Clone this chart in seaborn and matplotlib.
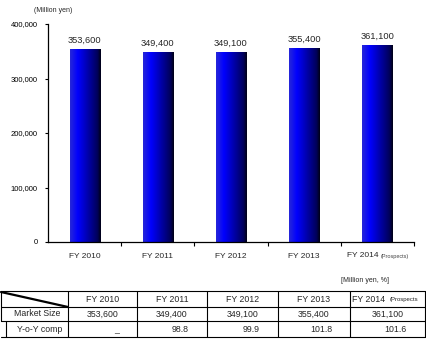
import numpy as np
import pandas as pd
import matplotlib
matplotlib.use("Agg")
import matplotlib.pyplot as plt
from matplotlib.colors import LinearSegmentedColormap
import seaborn as sns

# ---- data ----
years = ["FY 2010", "FY 2011", "FY 2012", "FY 2013", "FY 2014"]
market_size = [353600, 349400, 349100, 355400, 361100]
yoy = [None, 98.8, 99.9, 101.8, 101.6]
yticks = [0, 100000, 200000, 300000, 400000]
unit_chart = "(Million yen)"
unit_table = "[Million yen, %]"
prospect_note = "(Prospects)"
row_labels = ["Market Size", "Y-o-Y comp"]

sns.set_theme(style="white")
plt.rcParams["font.family"] = ["Liberation Sans", "DejaVu Sans"]

fig = plt.figure(figsize=(4.27, 3.43), dpi=100)
W, H = 427, 343
ax = fig.add_axes([48 / W, (H - 242) / H, 366 / W, (242 - 24) / H])

df = pd.DataFrame({"year": years, "value": market_size})
sns.barplot(data=df, x="year", y="value", ax=ax, color="#0000ff", width=0.41,
            saturation=1, edgecolor="none")

ax.set_ylim(0, 400000)
ax.set_xlim(-0.5, 4.5)
ax.set_yticks(yticks)
ax.set_yticklabels([f"{v:,}" for v in yticks], fontsize=5.5)
ax.tick_params(axis="y", direction="out", length=2.5, width=0.8, pad=5, left=True, colors="black")
ax.set_xticks(range(len(years)))
ax.set_xticklabels(years[:-1] + [""], fontsize=6)
ax.tick_params(axis="x", length=0, pad=8)
ax.set_xticks([0.5, 1.5, 2.5, 3.5, 4.5], minor=True)
ax.tick_params(axis="x", which="minor", direction="out", length=3, width=0.8, bottom=True, color="black")
ax.set_xlabel("")
ax.set_ylabel("")
for s in ["top", "right"]:
    ax.spines[s].set_visible(False)
for s in ["left", "bottom"]:
    ax.spines[s].set_color("black")
    ax.spines[s].set_linewidth(0.9)

# gradient fill for bars
cmap = LinearSegmentedColormap.from_list(
    "barg",
    [(0.0, (0.15, 0.15, 0.85)), (0.25, (0.0, 0.0, 1.0)), (0.6, (0.0, 0.0, 0.65)),
     (0.9, (0.0, 0.0, 0.35)), (1.0, (0.0, 0.0, 0.08))])
grad = np.linspace(0, 1, 64).reshape(1, -1)
for p in ax.patches:
    x0, w, h = p.get_x(), p.get_width(), p.get_height()
    im = ax.imshow(grad, cmap=cmap, extent=[x0, x0 + w, 0, h], aspect="auto",
                   interpolation="bicubic", zorder=p.get_zorder() + 0.1)
    im.set_clip_path(p)
ax.set_xlim(-0.5, 4.5)
ax.set_ylim(0, 400000)

for c in ax.containers:
    ax.bar_label(c, labels=[f"{v:,}" for v in market_size], padding=3, fontsize=6.7)

ax.annotate(years[-1], xy=(4, 0), xycoords=("data", "axes fraction"),
            xytext=(0.5, -10), textcoords="offset points", ha="right", va="center", fontsize=6)
ax.annotate(prospect_note, xy=(4, 0), xycoords=("data", "axes fraction"),
            xytext=(2, -10.3), textcoords="offset points", ha="left", va="center",
            fontsize=4, color="#444444")

# ---- overlay for table & unit texts ----
ov = fig.add_axes([0, 0, 1, 1])
ov.set_xlim(0, W)
ov.set_ylim(H, 0)
ov.axis("off")

ov.text(53, 10, unit_chart, fontsize=5, ha="center", va="center")
ov.text(365, 281, unit_table, fontsize=5, ha="center", va="center")

cols = [1, 68, 137, 207, 278, 350, 425]
rows = [291, 307, 321, 337]
lw = 0.8
for y in rows:
    ov.plot([cols[0], cols[-1]], [y, y], color="black", lw=lw)
for i, x in enumerate(cols):
    if i == 0:
        ov.plot([x, x], [rows[0], rows[2]], color="black", lw=lw)
        ov.plot([6, 6], [rows[2], rows[3]], color="black", lw=lw)
    else:
        ov.plot([x, x], [rows[0], rows[3]], color="black", lw=lw)
ov.plot([1, 68], [292, 307], color="black", lw=1.6)

tfs = 6.3
for i, yr in enumerate(years):
    cx = (cols[i + 1] + cols[i + 2]) / 2
    if i == len(years) - 1:
        ov.text(cols[i + 1] + 2, 299, yr, fontsize=tfs, ha="left", va="center")
        ov.text(cols[i + 1] + 40, 299.5, prospect_note[:-1], fontsize=4.3, ha="left",
                va="center", clip_on=True)
    else:
        ov.text(cx, 299, yr, fontsize=tfs, ha="center", va="center")
    ov.text(cx, 314, f"{market_size[i]:,}", fontsize=tfs, ha="center", va="center")
    if yoy[i] is None:
        ov.text(cx + 14, 330, "_", fontsize=tfs, ha="center", va="center")
    else:
        ov.text(cols[i + 2] - 18, 329, f"{yoy[i]:.1f}", fontsize=tfs, ha="right", va="center")

ov.text(37, 314, row_labels[0], fontsize=tfs, ha="center", va="center")
ov.text(40, 329, row_labels[1], fontsize=tfs, ha="center", va="center")

fig.savefig("out.png", dpi=100)
